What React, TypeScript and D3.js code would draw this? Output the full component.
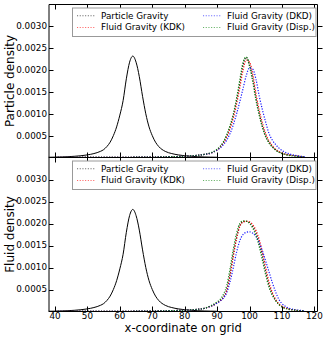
import React from "react";
import * as d3 from "d3";

// ---------- data ----------
const X_SOLID = [38, 40, 42, 44, 46, 48, 50, 52, 54, 55, 56, 57, 58, 59, 60, 61, 62, 63, 64, 65, 66, 67, 68, 69, 70, 71, 72, 74, 76, 78, 80, 82, 84, 86, 88, 90];
const INITIAL = [0.000005, 0.000008, 0.000012, 0.000018, 0.000028, 0.00004, 0.00006, 0.00009, 0.00014,
  0.00018, 0.00025, 0.00035, 0.0005, 0.0007, 0.00097, 0.0013, 0.0018, 0.00218, 0.00232, 0.00218, 0.00185, 0.0014, 0.001, 0.0007, 0.0005, 0.00035, 0.00025,
  0.00014, 0.00009, 0.00006, 0.00004, 0.000028, 0.000018, 0.000012, 0.000008, 0.000005];

const X_DOT = [40, 50, 60, 70, 76, 80, 84, 86, 88, 89, 90, 91, 92, 93, 94, 95, 96, 97, 98, 99, 100, 101, 102, 103, 104, 105, 106, 107, 108, 109, 110, 112, 114, 117];
const LOW = [0.000002, 0.000003, 0.000005, 0.00001, 0.00002, 0.00003, 0.00005, 0.00007];

const P_PARTICLE = [...LOW, 0.0001, 0.00013, 0.00018, 0.00025, 0.00035, 0.0005, 0.0007, 0.00097, 0.0013, 0.0017, 0.00212, 0.00229, 0.00212, 0.0018, 0.00135, 0.001, 0.0007, 0.00048, 0.00035, 0.00025, 0.00018, 0.00013, 0.0001, 0.00006, 0.00004, 0.00001];
const P_KDK = [...LOW, 0.0001, 0.00013, 0.00017, 0.00024, 0.00033, 0.00047, 0.00066, 0.0009, 0.00122, 0.0016, 0.002, 0.00223, 0.00218, 0.0019, 0.00145, 0.00108, 0.00078, 0.00054, 0.00038, 0.00027, 0.00019, 0.00014, 0.0001, 0.00006, 0.00004, 0.00001];
const P_DKD = [...LOW, 0.0001, 0.00013, 0.00017, 0.00022, 0.0003, 0.0004, 0.00055, 0.00075, 0.001, 0.00128, 0.00158, 0.00188, 0.00205, 0.00202, 0.00178, 0.0014, 0.00108, 0.0008, 0.00055, 0.0004, 0.0003, 0.00022, 0.00016, 0.00009, 0.00005, 0.00002];
const P_DISP = [...LOW, 0.00011, 0.00014, 0.00019, 0.00026, 0.00037, 0.00053, 0.00074, 0.001, 0.00136, 0.00178, 0.00218, 0.0023, 0.00208, 0.00172, 0.0013, 0.00096, 0.00068, 0.00047, 0.00033, 0.00024, 0.00017, 0.00012, 0.00009, 0.00005, 0.00003, 0.00001];

const F_PARTICLE = [...LOW, 0.00012, 0.00015, 0.0002, 0.00025, 0.00033, 0.0005, 0.00085, 0.0013, 0.00168, 0.00195, 0.00204, 0.00205, 0.00202, 0.00193, 0.00178, 0.00155, 0.00124, 0.0009, 0.0006, 0.0004, 0.00026, 0.00017, 0.00011, 0.00006, 0.00003, 0.00001];
const F_KDK = [...LOW, 0.00012, 0.00015, 0.0002, 0.00025, 0.00033, 0.00048, 0.00082, 0.00125, 0.00165, 0.00193, 0.00203, 0.00205, 0.00204, 0.00197, 0.00184, 0.00163, 0.00133, 0.00099, 0.00067, 0.00044, 0.00028, 0.00018, 0.00012, 0.00006, 0.00003, 0.00001];
const F_DKD = [...LOW, 0.00012, 0.00015, 0.00019, 0.00024, 0.00031, 0.00043, 0.00068, 0.001, 0.00135, 0.00161, 0.00175, 0.0018, 0.00181, 0.00178, 0.0017, 0.00156, 0.00137, 0.00114, 0.0009, 0.00066, 0.00045, 0.00028, 0.00018, 0.00008, 0.00004, 0.00002];
const F_DISP = [...LOW, 0.00013, 0.00017, 0.00022, 0.00028, 0.0004, 0.0006, 0.00098, 0.00142, 0.00178, 0.002, 0.00206, 0.00205, 0.002, 0.00189, 0.00172, 0.00147, 0.00115, 0.00082, 0.00055, 0.00037, 0.00025, 0.00016, 0.0001, 0.00005, 0.00003, 0.00001];

const SERIES_NAMES = ["Particle Gravity", "Fluid Gravity (KDK)", "Fluid Gravity (DKD)", "Fluid Gravity (Disp.)"];
const SERIES_COLORS = ["#000000", "#ff0000", "#0000ff", "#008000"];
const X_TICKS = [40, 50, 60, 70, 80, 90, 100, 110, 120];
const Y_TICKS = [0.0005, 0.001, 0.0015, 0.002, 0.0025, 0.003];
const Y_LABELS = ["Particle density", "Fluid density"];
const X_LABEL = "x-coordinate on grid";

// ---------- layout ----------
const W = 325, H = 338;
const L = 49, R = 317.5;
const PANELS = [
  { top: 4.5, bottom: 157.5, data: [P_PARTICLE, P_KDK, P_DKD, P_DISP] },
  { top: 157.5, bottom: 311.5, data: [F_PARTICLE, F_KDK, F_DKD, F_DISP] },
];
const FONT = "DejaVu Sans, Verdana, sans-serif";

export default function App() {
  const x = d3.scaleLinear().domain([38.15, 120.95]).range([L, R]);
  const fmt = d3.format(".4f");

  return (
    <svg width={W} height={H} style={{ position: "absolute", left: 0, top: 0, background: "#fff" }} fontFamily={FONT}>
      <rect x={0} y={0} width={W} height={H} fill="#fff" />
      {PANELS.map((p, pi) => {
        const y = d3.scaleLinear().domain([0, 0.0035]).range([p.bottom, p.top]);
        const line = d3.line<number>()
          .x((_, i) => x(X_DOT[i]))
          .y((d) => y(d))
          .curve(d3.curveMonotoneX);
        const solid = d3.line<number>()
          .x((_, i) => x(X_SOLID[i]))
          .y((d) => y(d))
          .curve(d3.curveMonotoneX);
        const legTop = p.top + 3;
        const rows = [legTop + 8.3, legTop + 20];
        const cols = [{ h: 77, t: 101 }, { h: 203, t: 227 }];
        return (
          <g key={pi}>
            <path d={solid(INITIAL) || ""} fill="none" stroke="#000" strokeWidth={1} />
            {p.data.map((s, si) => (
              <path key={si} d={line(s) || ""} fill="none" stroke={SERIES_COLORS[si]} strokeOpacity={0.9}
                strokeWidth={1.2} strokeDasharray="1.2,1.5" />
            ))}
            {/* frame */}
            <line x1={L} x2={L} y1={p.top} y2={p.bottom} stroke="#000" strokeWidth={1} />
            <line x1={R} x2={R} y1={p.top} y2={p.bottom} stroke="#000" strokeWidth={1} />
            <line x1={L} x2={R} y1={p.top} y2={p.top} stroke="#000" strokeWidth={1} />
            <line x1={L} x2={R} y1={p.bottom} y2={p.bottom} stroke="#000" strokeWidth={1} />
            {/* x ticks */}
            {X_TICKS.map((t) => (
              <g key={"xt" + t}>
                <line x1={Math.round(x(t)) + 0.5} x2={Math.round(x(t)) + 0.5} y1={p.top} y2={p.top + 5} stroke="#000" strokeWidth={1} />
                <line x1={Math.round(x(t)) + 0.5} x2={Math.round(x(t)) + 0.5} y1={p.bottom} y2={p.bottom - 5} stroke="#000" strokeWidth={1} />
              </g>
            ))}
            {/* y ticks */}
            {Y_TICKS.map((t) => (
              <g key={"yt" + t}>
                <line x1={L} x2={L + 4.5} y1={Math.round(y(t)) + 0.5} y2={Math.round(y(t)) + 0.5} stroke="#000" strokeWidth={1} />
                <line x1={R} x2={R + 5} y1={Math.round(y(t)) + 0.5} y2={Math.round(y(t)) + 0.5} stroke="#000" strokeWidth={1} />
                <text x={L - 2} y={y(t)} dy="0.34em" textAnchor="end" fontSize={8.8}>{fmt(t)}</text>
              </g>
            ))}
            {/* y label */}
            <text transform={`translate(13.5,${(p.top + p.bottom) / 2}) rotate(-90)`} textAnchor="middle" fontSize={12}>{Y_LABELS[pi]}</text>
            {/* legend */}
            <rect x={72.5} y={legTop + 0.5} width={243.5} height={28.5} fill="#fff" stroke="#999" strokeWidth={1} />
            {SERIES_NAMES.map((n, si) => {
              const c = cols[Math.floor(si / 2)];
              const ry = rows[si % 2];
              return (
                <g key={n}>
                  <line x1={c.h} x2={c.h + 18} y1={ry} y2={ry} stroke={SERIES_COLORS[si]} strokeOpacity={0.6} strokeWidth={1.1} strokeDasharray="1.1,1.6" />
                  <text x={c.t} y={ry} dy="0.34em" fontSize={8.8}>{n}</text>
                </g>
              );
            })}
          </g>
        );
      })}
      {X_TICKS.map((t) => (
        <text key={"xl" + t} x={x(t)} y={319} textAnchor="middle" fontSize={8.8}>{t}</text>
      ))}
      <text x={(L + R) / 2} y={332} textAnchor="middle" fontSize={11.6}>{X_LABEL}</text>
    </svg>
  );
}
